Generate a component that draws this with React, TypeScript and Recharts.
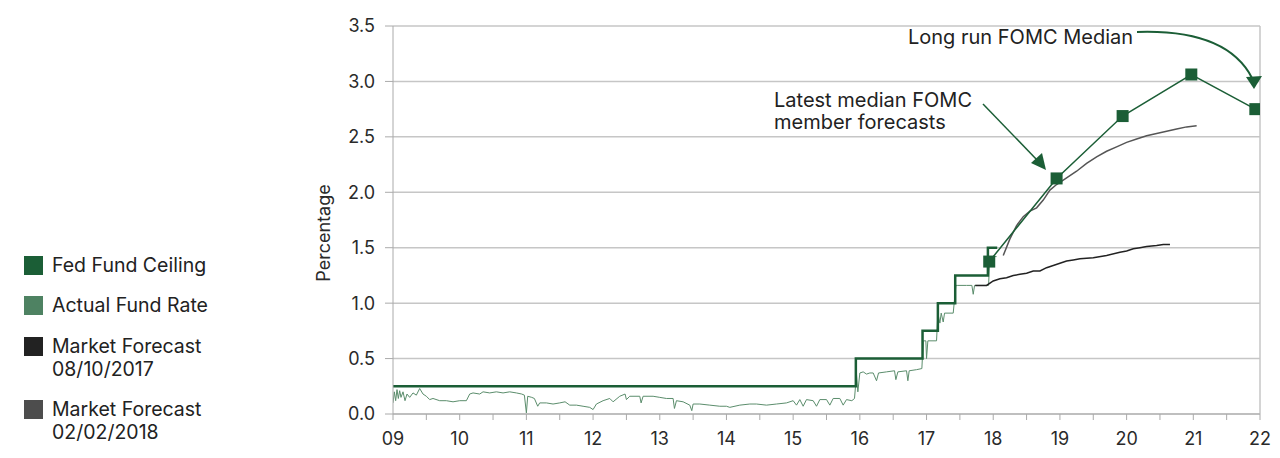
import { LineChart, Line, XAxis, YAxis, CartesianGrid, ReferenceLine } from "recharts";

// fed funds upper bound (step series)
const ceilingYears = [9, 15.94, 16.94, 17.17, 17.43, 17.92, 18.06];
const ceilingRates = [0.25, 0.5, 0.75, 1.0, 1.25, 1.5, 1.5];

// effective rate
const actualYears = [
  9.0, 9.02, 9.04, 9.06, 9.08, 9.1, 9.12, 9.15, 9.18, 9.21, 9.25, 9.3, 9.35, 9.4, 9.45, 9.5, 9.55, 9.6, 9.7, 9.8, 9.9,
  10.0, 10.1, 10.15, 10.2, 10.3, 10.35, 10.45, 10.55, 10.65, 10.75, 10.85, 10.93, 10.97, 11.0, 11.02, 11.08,
  11.12, 11.17, 11.2, 11.3, 11.4, 11.5, 11.58, 11.65, 11.75, 11.85, 11.95, 12.0, 12.05, 12.15, 12.25, 12.3,
  12.4, 12.48, 12.5, 12.55, 12.7, 12.72, 12.75, 12.9, 13.0, 13.1, 13.2, 13.22, 13.25, 13.35, 13.45, 13.48,
  13.5, 13.6, 13.75, 13.9, 14.0, 14.05, 14.2, 14.35, 14.45, 14.6, 14.75, 14.9, 15.0, 15.05, 15.1, 15.15, 15.2,
  15.3, 15.35, 15.4, 15.5, 15.55, 15.6, 15.7, 15.75, 15.8, 15.88, 15.92, 15.95, 15.97, 16.0, 16.05, 16.1,
  16.15, 16.2, 16.25, 16.28, 16.4, 16.52, 16.54, 16.57, 16.7, 16.72, 16.74, 16.85, 16.93, 16.95, 16.99,
  17.0, 17.02, 17.15, 17.17, 17.2, 17.22, 17.25, 17.27, 17.4, 17.44, 17.46, 17.6, 17.68, 17.7, 17.72, 17.9,
  17.93, 17.95, 18.05,
];
const actualRates = [
  0.1, 0.2, 0.12, 0.22, 0.14, 0.21, 0.15, 0.2, 0.12, 0.18, 0.15, 0.19, 0.17, 0.23, 0.18, 0.16, 0.13, 0.14, 0.12, 0.12, 0.11,
  0.12, 0.12, 0.18, 0.19, 0.18, 0.2, 0.19, 0.2, 0.19, 0.2, 0.19, 0.18, 0.17, 0.01, 0.16, 0.15,
  0.14, 0.07, 0.1, 0.1, 0.09, 0.1, 0.11, 0.08, 0.08, 0.07, 0.06, 0.04, 0.09, 0.12, 0.14, 0.11,
  0.16, 0.18, 0.13, 0.16, 0.16, 0.1, 0.16, 0.16, 0.15, 0.14, 0.14, 0.05, 0.12, 0.11, 0.08, 0.03,
  0.09, 0.09, 0.08, 0.07, 0.07, 0.06, 0.08, 0.09, 0.09, 0.08, 0.09, 0.1, 0.12, 0.08, 0.13, 0.07, 0.13,
  0.12, 0.07, 0.13, 0.13, 0.08, 0.14, 0.14, 0.08, 0.13, 0.12, 0.14, 0.36, 0.2, 0.37, 0.38, 0.36,
  0.37, 0.37, 0.3, 0.37, 0.38, 0.39, 0.31, 0.38, 0.39, 0.3, 0.39, 0.4, 0.41, 0.66, 0.66,
  0.5, 0.66, 0.66, 0.91, 0.82, 0.91, 0.83, 0.91, 0.91, 1.16, 1.16, 1.16, 1.16, 1.08, 1.16, 1.16,
  1.16, 1.42, 1.42,
];

// market implied path, 08/10/2017
const fcAugYears = [
  17.73, 17.9, 18.0, 18.1, 18.2, 18.3, 18.4, 18.5, 18.6, 18.7, 18.8, 18.9, 19.0, 19.1, 19.2, 19.3, 19.5,
  19.7, 19.9, 20.0, 20.1, 20.2, 20.3, 20.45, 20.55, 20.65,
];
const fcAugRates = [
  1.16, 1.16, 1.2, 1.22, 1.23, 1.25, 1.26, 1.27, 1.29, 1.29, 1.32, 1.34, 1.36, 1.38, 1.39, 1.4, 1.41,
  1.43, 1.46, 1.47, 1.49, 1.5, 1.51, 1.52, 1.53, 1.53,
];

// market implied path, 02/02/2018
const fcFebYears = [
  18.15, 18.25, 18.35, 18.45, 18.55, 18.65, 18.75, 18.85, 18.95, 19.1, 19.25, 19.4, 19.55, 19.7, 19.85,
  20.0, 20.15, 20.3, 20.45, 20.6, 20.75, 20.9, 21.05,
];
const fcFebRates = [
  1.43, 1.58, 1.7, 1.78, 1.83, 1.86, 1.93, 2.02, 2.07, 2.13, 2.19, 2.26, 2.32, 2.37, 2.41,
  2.45, 2.48, 2.51, 2.53, 2.55, 2.57, 2.59, 2.6,
];

// FOMC median dots
const fomcYears = [17.94, 18.95, 19.94, 20.97, 21.93];
const fomcRates = [1.375, 2.125, 2.6875, 3.0625, 2.75];

const yTicks = [0, 0.5, 1, 1.5, 2, 2.5, 3, 3.5];
const xTicks = [9, 9.5, 10, 10.5, 11, 11.5, 12, 12.5, 13, 13.5, 14, 14.5, 15, 15.5, 16, 16.5, 17, 17.5, 18, 18.5, 19, 19.5, 20, 20.5, 21, 21.5, 22];

const zip = (xs: number[], ys: number[]) => xs.map((x, i) => ({ x, y: ys[i] }));

const GREEN = "#1b5e36";
const FONT = "Inter, 'Noto Sans', sans-serif";

const legendItems = [
  { color: GREEN, lines: ["Fed Fund Ceiling"], top: 256 },
  { color: "#4e8262", lines: ["Actual Fund Rate"], top: 296 },
  { color: "#222222", lines: ["Market Forecast", "08/10/2017"], top: 337 },
  { color: "#4d4d4d", lines: ["Market Forecast", "02/02/2018"], top: 400 },
];

const Square = (props: any) => {
  const { cx, cy, index } = props;
  return <rect key={index} x={cx - 6} y={cy - 6} width={12} height={12} fill={GREEN} />;
};

export default function App() {
  const tickStyle = { fontSize: 18, fill: "#2a2a2a", fontFamily: FONT };
  return (
    <div style={{ position: "absolute", left: 0, top: 0, width: 1280, height: 458, background: "#fff", fontFamily: FONT }}>
      <LineChart width={1280} height={458} margin={{ top: 26, right: 20, bottom: 14, left: 313 }}>
        <CartesianGrid vertical={false} stroke="#c6c6c6" strokeWidth={1.5} />
        <XAxis
          type="number"
          dataKey="x"
          domain={[9, 22]}
          ticks={xTicks}
          interval={0}
          tickFormatter={(v: number) => (Number.isInteger(v) ? String(v).padStart(2, "0") : "")}
          tick={tickStyle}
          tickSize={6}
          tickMargin={12}
          stroke="#aaa"
          allowDataOverflow
        />
        <YAxis
          type="number"
          domain={[0, 3.5]}
          ticks={yTicks}
          interval={0}
          width={80}
          tickFormatter={(v: number) => v.toFixed(1)}
          tick={tickStyle}
          tickSize={8}
          tickMargin={10}
          stroke="#aaa"
        />
        <ReferenceLine x={22} stroke="#c6c6c6" strokeWidth={1.5} />
        <Line data={zip(actualYears, actualRates)} dataKey="y" type="linear" stroke="#5b8d6c" strokeWidth={1} dot={false} isAnimationActive={false} />
        <Line data={zip(ceilingYears, ceilingRates)} dataKey="y" type="stepAfter" stroke={GREEN} strokeWidth={2.5} dot={false} isAnimationActive={false} />
        <Line data={zip(fcAugYears, fcAugRates)} dataKey="y" type="linear" stroke="#222" strokeWidth={1.5} dot={false} isAnimationActive={false} />
        <Line data={zip(fcFebYears, fcFebRates)} dataKey="y" type="linear" stroke="#555" strokeWidth={1.5} dot={false} isAnimationActive={false} />
        <Line data={zip(fomcYears, fomcRates)} dataKey="y" type="linear" stroke={GREEN} strokeWidth={1.5} dot={Square} isAnimationActive={false} />
      </LineChart>

      <svg width={1280} height={458} style={{ position: "absolute", left: 0, top: 0, pointerEvents: "none" }}>
        <text transform="translate(330,233) rotate(-90)" textAnchor="middle" fontSize={18} fill="#2a2a2a" fontFamily={FONT}>
          Percentage
        </text>
        <text x={774} y={107} fontSize={20} fill="#222" fontFamily={FONT}>Latest median FOMC</text>
        <text x={774} y={129} fontSize={20} fill="#222" fontFamily={FONT}>member forecasts</text>
        <line x1={983} y1={104} x2={1038} y2={161} stroke={GREEN} strokeWidth={1.5} />
        <polygon points="1046,170 1031,163 1042,153" fill={GREEN} />
        <text x={908} y={44} fontSize={20} fill="#222" fontFamily={FONT}>Long run FOMC Median</text>
        <path d="M1137 32 C1195 30, 1235 45, 1252 78" fill="none" stroke={GREEN} strokeWidth={2} />
        <polygon points="1254,89 1246,77 1262,76" fill={GREEN} />
      </svg>

      {legendItems.map((it) => (
        <div key={it.top} style={{ position: "absolute", left: 24, top: it.top, display: "flex", alignItems: "flex-start" }}>
          <div style={{ width: 19, height: 19, background: it.color, flex: "none" }} />
          <div style={{ marginLeft: 9, fontSize: 19.5, lineHeight: "23px", color: "#222", marginTop: -2 }}>
            {it.lines.map((l) => (
              <div key={l}>{l}</div>
            ))}
          </div>
        </div>
      ))}
    </div>
  );
}
